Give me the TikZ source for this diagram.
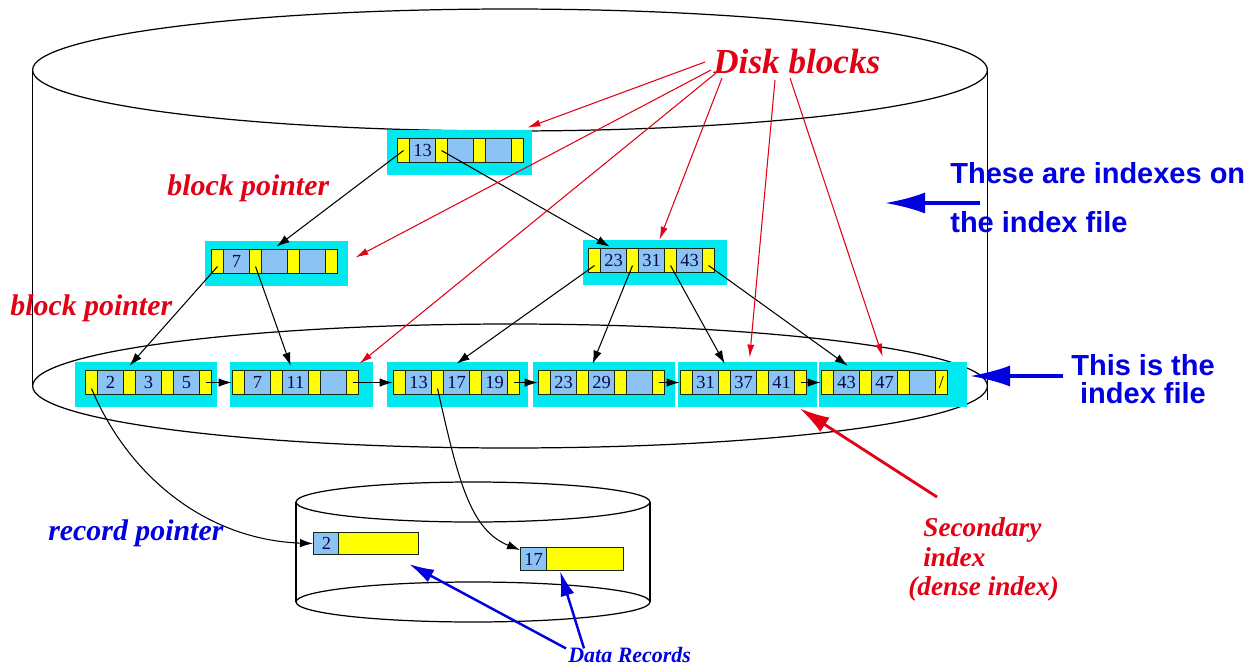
\documentclass[tikz,border=0pt]{standalone}
\usepackage{fontspec}
\setmainfont{Liberation Serif}
\newfontfamily\lsans{Liberation Sans}
\usetikzlibrary{arrows.meta,calc,fit}
\definecolor{bgcyan}{RGB}{0,232,240}
\definecolor{cellblue}{RGB}{140,195,245}
\definecolor{cellyel}{RGB}{255,255,0}
\definecolor{cellline}{RGB}{20,40,20}
\definecolor{redc}{RGB}{225,0,20}
\definecolor{bluec}{RGB}{0,0,225}
\definecolor{numc}{RGB}{10,10,70}
\newcommand\idxblock[9]{%
  \fill[bgcyan] ({#4},{#3-8}) rectangle ({#5},{#3+37});
  \node[ycell] (#1y1) at ({#2},{#3}) {};
  \node[bcell] (#1b1) at ({#2+12},{#3}) {#6};
  \node[ycell] (#1y2) at ({#2+38},{#3}) {};
  \node[bcell] (#1b2) at ({#2+50},{#3}) {#7};
  \node[ycell] (#1y3) at ({#2+76},{#3}) {};
  \node[bcell] (#1b3) at ({#2+88},{#3}) {#8};
  \node[ycell] (#1y4) at ({#2+114},{#3}) {#9};
  \node[fit=(#1y1)(#1y4),inner sep=0pt] (#1) {};
}
\begin{document}
\begin{tikzpicture}[x=0.02cm,y=-0.02cm,
  cyl/.style={line width=0.7pt,black},
  ycell/.style={draw=cellline,fill=cellyel,line width=0.6pt,minimum width=0.24cm,minimum height=0.48cm,inner sep=0pt,anchor=north west,font=\fontsize{10.5}{10.5}\selectfont,text=numc},
  bcell/.style={ycell,fill=cellblue,minimum width=0.52cm},
  ptr/.style={line width=0.6pt,black,-{Latex[length=0.26cm,width=0.17cm]}},
  redarr/.style={redc,line width=0.6pt,-{Latex[length=0.26cm,width=0.14cm]}},
  secarr/.style={redc,line width=1.6pt,-{Latex[length=0.6cm,width=0.34cm]}},
  bigblue/.style={bluec,line width=1.8pt,-{Latex[length=0.8cm,width=0.42cm]}},
  drarr/.style={bluec,line width=1.4pt,-{Latex[length=0.5cm,width=0.28cm]}},
  redlab/.style={text=redc,inner sep=0pt,font=\fontsize{17}{20}\selectfont\bfseries\itshape},
  bluelab/.style={text=bluec,inner sep=0pt,font=\fontsize{17}{20}\selectfont\bfseries\itshape},
  bsans/.style={text=bluec,inner sep=0pt,font=\lsans\fontsize{16.5}{27.8}\selectfont\bfseries},
]
\useasboundingbox (0,0) rectangle (1260,666);
% big cylinder
\draw[cyl] (510,70) ellipse [x radius=9.55cm, y radius=1.22cm];
\draw[cyl] (32.5,70) -- (32.5,386);
\draw[cyl] (987.5,70) -- (987.5,400);
\draw[cyl] (510,386) ellipse [x radius=9.55cm, y radius=1.24cm];
% small cylinder
\draw[cyl] (473,502) ellipse [x radius=3.54cm, y radius=0.4cm];
\draw[cyl] (296,502) -- (296,602);
\draw[cyl] (650,502) -- (650,602);
\draw[cyl] (473,602) ellipse [x radius=3.54cm, y radius=0.4cm];
% blocks
\idxblock{R}{397}{138}{387}{532}{13}{}{}{}
\idxblock{A}{211}{249}{205}{348}{7}{}{}{}
\idxblock{B}{588}{248}{583}{727}{23}{31}{43}{}
\idxblock{La}{85}{370}{75}{217}{2}{3}{5}{}
\idxblock{Lb}{232}{370}{230}{373}{7}{11}{}{}
\idxblock{Lc}{393}{370}{387}{528}{13}{17}{19}{}
\idxblock{Ld}{538}{370}{533}{675}{23}{29}{}{}
\idxblock{Le}{680}{370}{678}{817}{31}{37}{41}{}
\idxblock{Lf}{821}{370}{819}{967}{43}{47}{}{/}
% records
\node[bcell,minimum height=0.44cm] (r2b) at (313,532) {2};
\node[ycell,minimum height=0.44cm,minimum width=1.6cm] (r2y) at (338,532) {};
\node[bcell,minimum height=0.46cm] (r17b) at (520,547) {17};
\node[ycell,minimum height=0.46cm,minimum width=1.54cm] (r17y) at (546,547) {};
% tree pointers
\draw[ptr] (Ry1.center) -- ($(A.north west)+(66,-2)$);
\draw[ptr] (Ry2.center) -- ($(B.north west)+(22,-1)$);
\draw[ptr] ($(Ay1.center)+(0,5)$) -- ($(La.north west)+(45,-4)$);
\draw[ptr] ($(Ay2.center)+(0,5)$) -- ($(Lb.north west)+(59,-4)$);
\draw[ptr] ($(By1.center)+(0,5)$) -- ($(Lc.north west)+(64,-6)$);
\draw[ptr] ($(By2.center)+(0,5)$) -- ($(Ld.north west)+(55,-6)$);
\draw[ptr] ($(By3.center)+(0,5)$) -- ($(Le.north west)+(45,-6)$);
\draw[ptr] ($(By4.center)+(0,5)$) -- ($(Lf.north west)+(27,-4)$);
% leaf links
\draw[ptr] (Lay4.center) -- (Lb.west);
\draw[ptr] (Lby4.center) -- (Lc.west);
\draw[ptr] (Lcy4.center) -- (Ld.west);
\draw[ptr] (Ldy4.center) -- (Le.west);
\draw[ptr] (Ley4.center) -- (Lf.west);
% record pointers
\draw[ptr] ($(Lay1.center)+(0,6)$) .. controls (130,480) and (210,540) .. (r2b.west);
\draw[ptr] ($(Lcy2.center)+(0,6)$) .. controls (458,480) and (470,530) .. ($(r17b.north west)+(0,3)$);
% labels
\node[redlab,anchor=base west] (bp1) at (167,195) {block pointer};
\node[redlab,anchor=base west] (bp2) at (10,315) {block pointer};
\node[bluelab,anchor=base west] (rp) at (48,540) {record pointer};
\node[text=redc,inner sep=0pt,font=\fontsize{20}{24}\selectfont\bfseries\itshape,anchor=base west] (DB) at (713,73) {Disk blocks};
\node[text=redc,inner sep=0pt,font=\fontsize{15.5}{17}\selectfont\bfseries\itshape,anchor=north west,align=left] (SI) at (923,517) {Secondary\\index\\\hspace*{-0.3cm}(dense index)};
\node[text=bluec,inner sep=0pt,font=\fontsize{12.5}{14}\selectfont\bfseries\itshape,anchor=base west] (DR) at (568,662) {Data Records};
\node[bsans,anchor=north west,align=left] (T1) at (950,162) {These are indexes on\\the index file};
\node[bsans,anchor=north,align=center,font=\lsans\fontsize{16.5}{16}\selectfont\bfseries] (T2) at (1143,354) {This is the\\index file};
% red arrows from Disk blocks
\coordinate (d1) at (705,62);
\coordinate (d2) at (711,70);
\coordinate (d3) at (716,73);
\coordinate (d4) at (722,78);
\coordinate (d5) at (775,80);
\coordinate (d6) at (790,78);
\draw[redarr] (d1) -- ($(R.north east)+(3,-10)$);
\draw[redarr] (d2) -- ($(A.east)+(17,-4)$);
\draw[redarr] (d3) -- ($(Lb.north east)+(0,-6)$);
\draw[redarr] (d4) -- ($(B.north)+(8,-8)$);
\draw[redarr] (d5) -- ($(Le.north west)+(70,-12)$);
\draw[redarr] (d6) -- ($(Lf.north west)+(62,-13)$);
% secondary index arrow
\draw[secarr] ($(SI.north west)+(14,-20)$) -- ($(Le.south west)+(120,13)$);
% data records arrows
\draw[drarr] ($(DR.north west)+(-2,2)$) -- ($(r2y.south east)+(-10,9)$);
\draw[drarr] ($(DR.north west)+(16,2)$) -- ($(r17y.south west)+(14,0)$);
% blue side arrows
\coordinate (ta) at (980,203);
\coordinate (tb) at (885,203);
\draw[bigblue] (ta) -- (tb);
\coordinate (tc) at (1063,376);
\coordinate (td) at (970,376);
\draw[bigblue] (tc) -- (td);
\end{tikzpicture}
\end{document}
